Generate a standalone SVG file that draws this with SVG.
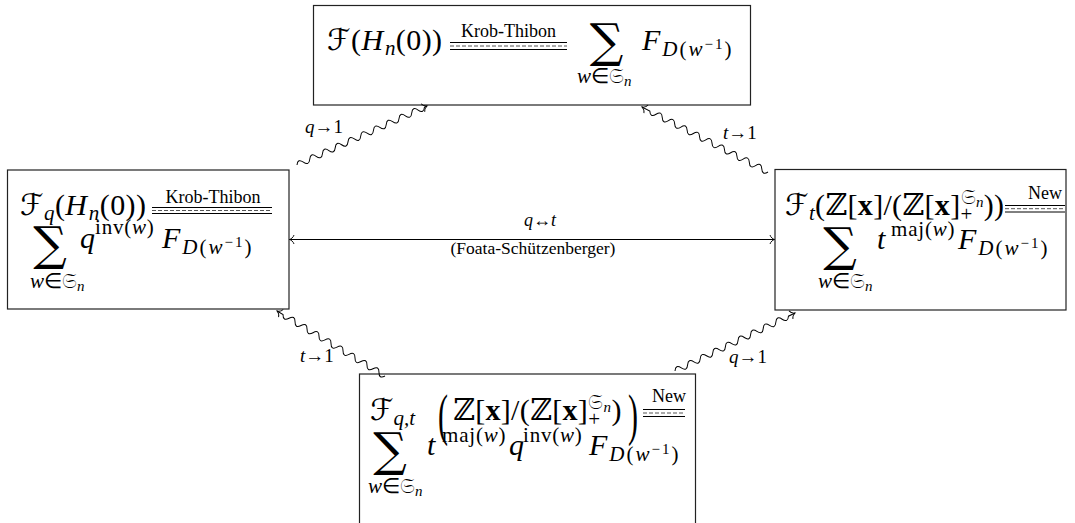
<svg xmlns="http://www.w3.org/2000/svg" width="1075" height="523" viewBox="0 0 1075 523">
<defs>
<style>
.box{fill:#fff;stroke:#222;stroke-width:1.2}
.m{font-family:"Liberation Serif","Times New Roman",serif;font-size:30px;fill:#000}
.i{font-style:italic}
.s{font-size:21px}
.ss{font-size:15px}
.cal{font-family:"DejaVu Serif","DejaVu Sans",serif;font-style:italic}
.bb{font-family:"DejaVu Serif","DejaVu Sans",serif}
.frak{font-family:"DejaVu Sans","DejaVu Serif","Noto Sans",serif}
.bf{font-weight:bold}
.sum{font-family:"DejaVu Serif",serif;font-size:47px;text-anchor:middle}
.lbl{font-family:"Liberation Serif","Times New Roman",serif;font-size:18px;text-anchor:middle}
.eq{stroke:#000;stroke-width:1}
.eqd{stroke:#555;stroke-width:1;stroke-dasharray:4 2}
.conn{fill:none;stroke:#000;stroke-width:1}
.cl{font-family:"Liberation Serif","Times New Roman",serif;font-size:19px}
.r1{letter-spacing:0.4px}
.r2{letter-spacing:0.3px}
.fd{letter-spacing:2px}
.sup{letter-spacing:0.8px}
</style>
<marker id="to" viewBox="-7 -6 9 12" refX="0" refY="0" markerWidth="9" markerHeight="12" markerUnits="userSpaceOnUse" orient="auto-start-reverse">
<path d="M-4.5,-4.5 C-3.8,-2 -1.5,-0.5 0,0 C-1.5,0.5 -3.8,2 -4.5,4.5" fill="none" stroke="#000" stroke-width="0.9"/>
</marker>
</defs>

<g id="node-top">
<rect class="box" x="313.5" y="5.5" width="437" height="99.5"/>
<text class="m r1" x="327" y="50"><tspan class="cal">ℱ</tspan>(<tspan class="i">H</tspan><tspan class="s i" dx="1.5" dy="5">n</tspan><tspan dy="-5">(0))</tspan></text>
<text class="lbl" x="508.5" y="37">Krob-Thibon</text>
<line class="eq" x1="450" y1="42.5" x2="567" y2="42.5"/>
<line class="eqd" x1="450" y1="46" x2="567" y2="46"/>
<line class="eq" x1="450" y1="49.5" x2="567" y2="49.5"/>
<text class="sum" x="606.5" y="57">∑</text>
<text class="m s" x="577" y="83"><tspan class="i">w</tspan>∈<tspan class="frak">𝔖</tspan><tspan class="ss i" dy="3">n</tspan></text>
<text class="m fd" x="642" y="50"><tspan class="i">F</tspan><tspan class="s i" dy="6">D</tspan><tspan class="s">(</tspan><tspan class="s i">w</tspan><tspan class="ss" dy="-7">−1</tspan><tspan class="s" dy="7">)</tspan></text>
</g>

<g id="node-left">
<rect class="box" x="7.5" y="170" width="281.5" height="139"/>
<text class="m r1" x="20" y="215"><tspan class="cal">ℱ</tspan><tspan class="s i" dy="5">q</tspan><tspan dy="-5">(</tspan><tspan class="i">H</tspan><tspan class="s i" dx="1.5" dy="5">n</tspan><tspan dy="-5">(0))</tspan></text>
<text class="lbl" x="213" y="203">Krob-Thibon</text>
<line class="eq" x1="152" y1="207.5" x2="272" y2="207.5"/>
<line class="eqd" x1="152" y1="210.5" x2="272" y2="210.5"/>
<line class="eq" x1="152" y1="213.5" x2="272" y2="213.5"/>
<text class="sum" x="50" y="260">∑</text>
<text class="m s" x="30" y="288"><tspan class="i">w</tspan>∈<tspan class="frak">𝔖</tspan><tspan class="ss i" dy="3">n</tspan></text>
<text class="m i" x="80" y="248">q</text>
<text class="m s sup" x="95" y="234">inv(<tspan class="i">w</tspan>)</text>
<text class="m fd" x="162" y="248"><tspan class="i">F</tspan><tspan class="s i" dy="6">D</tspan><tspan class="s">(</tspan><tspan class="s i">w</tspan><tspan class="ss" dy="-7">−1</tspan><tspan class="s" dy="7">)</tspan></text>
</g>

<g id="node-right">
<rect class="box" x="775" y="169.5" width="291" height="140.5"/>
<text class="m r2" x="785" y="215"><tspan class="cal">ℱ</tspan><tspan class="s i" dy="5">t</tspan><tspan dy="-5">(</tspan><tspan class="bb">ℤ</tspan>[<tspan class="bf">x</tspan>]/(<tspan class="bb">ℤ</tspan>[<tspan class="bf">x</tspan>]<tspan class="s" dy="6">+</tspan><tspan class="s frak" dx="-12" dy="-17">𝔖</tspan><tspan class="ss i" dy="3">n</tspan><tspan dy="8">))</tspan></text>
<text class="lbl" x="1045" y="199">New</text>
<line class="eq" x1="1005" y1="205.5" x2="1065" y2="205.5"/>
<line class="eqd" x1="1005" y1="208.7" x2="1065" y2="208.7"/>
<line class="eq" x1="1005" y1="212" x2="1065" y2="212"/>
<text class="sum" x="840" y="261">∑</text>
<text class="m s" x="818" y="288"><tspan class="i">w</tspan>∈<tspan class="frak">𝔖</tspan><tspan class="ss i" dy="3">n</tspan></text>
<text class="m i" x="877" y="249">t</text>
<text class="m s sup" x="891" y="236">maj(<tspan class="i">w</tspan>)</text>
<text class="m fd" x="958" y="249"><tspan class="i">F</tspan><tspan class="s i" dy="6">D</tspan><tspan class="s">(</tspan><tspan class="s i">w</tspan><tspan class="ss" dy="-7">−1</tspan><tspan class="s" dy="7">)</tspan></text>
</g>

<g id="node-bottom">
<rect class="box" x="359.5" y="374" width="336" height="160"/>
<text class="m" x="370" y="420"><tspan class="cal">ℱ</tspan><tspan class="s i" dy="5">q,t</tspan></text>
<text class="m" transform="translate(438,434) scale(1,1.9)">(</text>
<text class="m r2" x="453" y="420"><tspan class="bb">ℤ</tspan>[<tspan class="bf">x</tspan>]/(<tspan class="bb">ℤ</tspan>[<tspan class="bf">x</tspan>]<tspan class="s" dy="6">+</tspan><tspan class="s frak" dx="-12" dy="-17">𝔖</tspan><tspan class="ss i" dy="3">n</tspan><tspan dy="8">)</tspan></text>
<text class="m" transform="translate(628,434) scale(1,1.9)">)</text>
<text class="lbl" x="669" y="402">New</text>
<line class="eq" x1="643" y1="409.5" x2="685" y2="409.5"/>
<line class="eqd" x1="643" y1="413" x2="685" y2="413"/>
<line class="eq" x1="643" y1="416.5" x2="685" y2="416.5"/>
<text class="sum" x="390" y="466">∑</text>
<text class="m s" x="368" y="493"><tspan class="i">w</tspan>∈<tspan class="frak">𝔖</tspan><tspan class="ss i" dy="3">n</tspan></text>
<text class="m i" x="427" y="455">t</text>
<text class="m s sup" x="442" y="442">maj(<tspan class="i">w</tspan>)</text>
<text class="m i" x="509" y="455">q</text>
<text class="m s sup" x="523" y="442">inv(<tspan class="i">w</tspan>)</text>
<text class="m fd" x="589" y="455"><tspan class="i">F</tspan><tspan class="s i" dy="6">D</tspan><tspan class="s">(</tspan><tspan class="s i">w</tspan><tspan class="ss" dy="-7">−1</tspan><tspan class="s" dy="7">)</tspan></text>
</g>

<g id="connectors">
<line class="conn" x1="289.5" y1="239.5" x2="774.5" y2="239.5" marker-start="url(#to)" marker-end="url(#to)"/>
<text class="cl" x="540" y="226" style="font-size:18px" text-anchor="middle"><tspan class="i">q</tspan>↔<tspan class="i">t</tspan></text>
<text class="lbl" x="533" y="254" style="font-size:17.5px">(Foata-Schützenberger)</text>
<path class="conn" transform="translate(297,165) rotate(-24.41)" marker-end="url(#to)" d="M0,0 Q3.5,-6 7,0 T14,0 T21,0 T28,0 T35,0 T42,0 T49,0 T56,0 T63,0 T70,0 T77,0 T84,0 T91,0 T98,0 T105,0 T112,0 T119,0 T126,0 T133,0 T140,0 L142.8,0"/>
<text class="cl" x="305" y="133"><tspan class="i">q</tspan>→1</text>
<path class="conn" transform="translate(768,172) rotate(-152.71)" marker-end="url(#to)" d="M0,0 Q3.5,-6 7,0 T14,0 T21,0 T28,0 T35,0 T42,0 T49,0 T56,0 T63,0 T70,0 T77,0 T84,0 T91,0 T98,0 T105,0 T112,0 T119,0 T126,0 T133,0 L141.8,0"/>
<text class="cl" x="723" y="139"><tspan class="i">t</tspan>→1</text>
<path class="conn" transform="translate(385,376) rotate(-148.96)" marker-end="url(#to)" d="M0,0 Q3.5,-6 7,0 T14,0 T21,0 T28,0 T35,0 T42,0 T49,0 T56,0 T63,0 T70,0 T77,0 T84,0 T91,0 T98,0 T105,0 T112,0 T119,0 L126,0"/>
<text class="cl" x="300" y="362"><tspan class="i">t</tspan>→1</text>
<path class="conn" transform="translate(675,371) rotate(-25.79)" marker-end="url(#to)" d="M0,0 Q3.5,-6 7,0 T14,0 T21,0 T28,0 T35,0 T42,0 T49,0 T56,0 T63,0 T70,0 T77,0 T84,0 T91,0 T98,0 T105,0 T112,0 T119,0 T126,0 L133.3,0"/>
<text class="cl" x="729" y="363"><tspan class="i">q</tspan>→1</text>
</g>
</svg>
